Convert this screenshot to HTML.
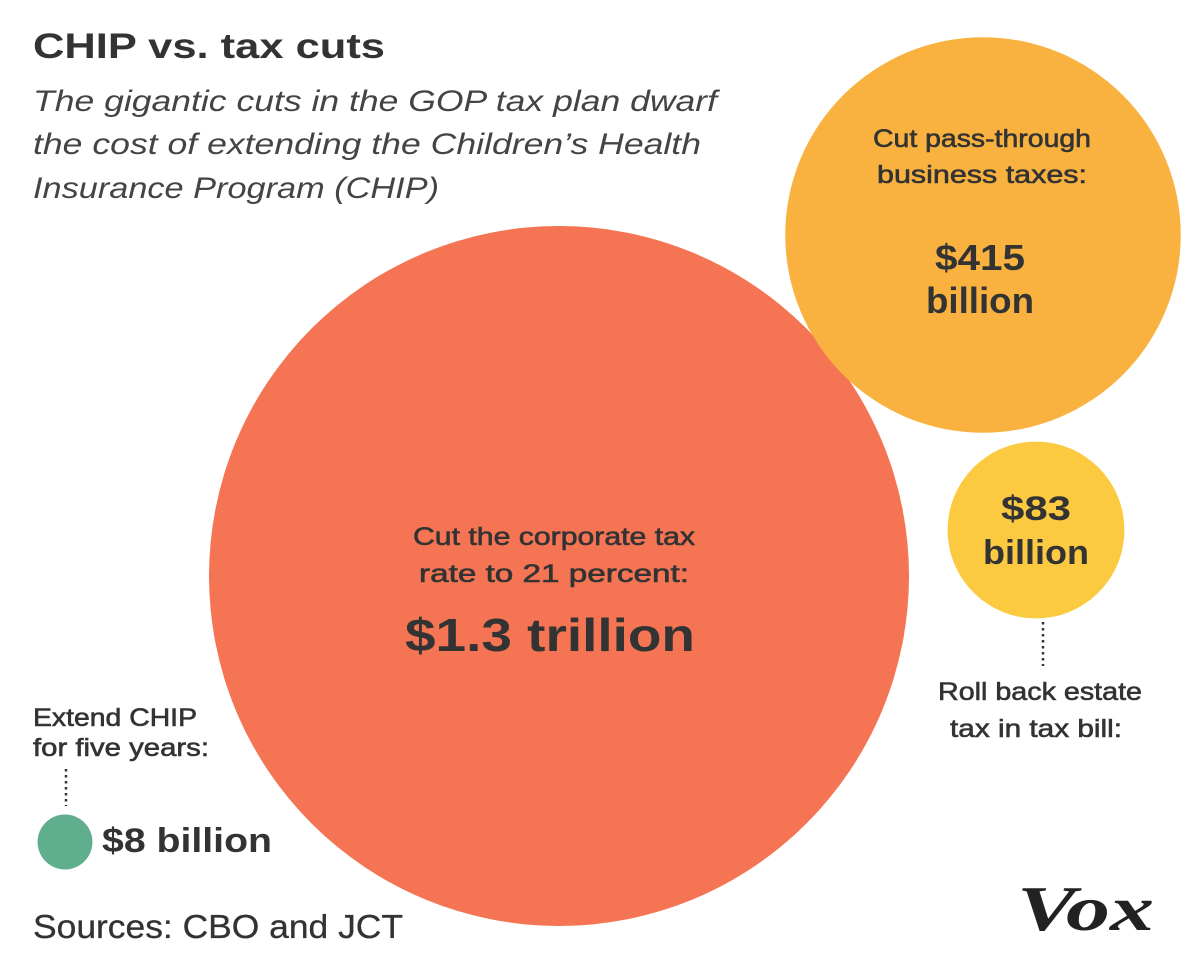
<!DOCTYPE html>
<html><head><meta charset="utf-8"><style>
html,body{margin:0;padding:0;background:#fff;}
svg{display:block;font-family:"Liberation Sans",sans-serif;}
.med{stroke:#333;stroke-width:0.6;}
</style></head><body>
<svg id="chart" width="1200" height="971" viewBox="0 0 1200 971" xmlns="http://www.w3.org/2000/svg">
<rect width="1200" height="971" fill="#fff"/>
<text x="33" y="58" font-size="35" font-weight="bold" fill="#333" textLength="352" lengthAdjust="spacingAndGlyphs">CHIP vs. tax cuts</text>
<g font-size="30" font-style="italic" fill="#444">
<text x="33" y="111" textLength="684" lengthAdjust="spacingAndGlyphs">The gigantic cuts in the GOP tax plan dwarf</text>
<text x="33" y="154" textLength="668" lengthAdjust="spacingAndGlyphs">the cost of extending the Children’s Health</text>
<text x="33" y="198" textLength="406" lengthAdjust="spacingAndGlyphs">Insurance Program (CHIP)</text>
</g>
<g id="bubbles"></g>
<g fill="#333" text-anchor="middle">
<text class="med" x="554" y="545" font-size="25" textLength="282" lengthAdjust="spacingAndGlyphs">Cut the corporate tax</text>
<text class="med" x="554" y="582" font-size="25" textLength="270" lengthAdjust="spacingAndGlyphs">rate to 21 percent:</text>
<text x="550" y="651" font-size="46" font-weight="bold" textLength="290" lengthAdjust="spacingAndGlyphs">$1.3 trillion</text>
</g>
<g fill="#333" text-anchor="middle">
<text class="med" x="982" y="147" font-size="25" textLength="218" lengthAdjust="spacingAndGlyphs">Cut pass-through</text>
<text class="med" x="982" y="183" font-size="25" textLength="210" lengthAdjust="spacingAndGlyphs">business taxes:</text>
<text x="980" y="270" font-size="36" font-weight="bold" textLength="90" lengthAdjust="spacingAndGlyphs">$415</text>
<text x="980" y="313" font-size="36" font-weight="bold" textLength="108" lengthAdjust="spacingAndGlyphs">billion</text>
</g>
<g fill="#333" text-anchor="middle">
<text x="1036" y="520" font-size="34" font-weight="bold" textLength="70" lengthAdjust="spacingAndGlyphs">$83</text>
<text x="1036" y="564" font-size="34" font-weight="bold" textLength="106" lengthAdjust="spacingAndGlyphs">billion</text>
<line x1="1043" y1="622" x2="1043" y2="666" stroke="#333" stroke-width="2.5" stroke-dasharray="2.5,3.5"/>
<text class="med" x="1040" y="700" font-size="25" textLength="204" lengthAdjust="spacingAndGlyphs">Roll back estate</text>
<text class="med" x="1036" y="737" font-size="25" textLength="172" lengthAdjust="spacingAndGlyphs">tax in tax bill:</text>
</g>
<g fill="#333">
<text class="med" x="33" y="726" font-size="25" textLength="164" lengthAdjust="spacingAndGlyphs">Extend CHIP</text>
<text class="med" x="33" y="756" font-size="25" textLength="176" lengthAdjust="spacingAndGlyphs">for five years:</text>
<line x1="66" y1="769" x2="66" y2="806" stroke="#333" stroke-width="2.5" stroke-dasharray="2.5,3.5"/>
<text x="102" y="852" font-size="34" font-weight="bold" textLength="170" lengthAdjust="spacingAndGlyphs">$8 billion</text>
</g>
<text x="33" y="938" font-size="33" fill="#333" stroke="#333" stroke-width="0.3" textLength="370" lengthAdjust="spacingAndGlyphs">Sources: CBO and JCT</text>
<text x="1017" y="930" font-family="'Liberation Serif',serif" font-size="64" font-weight="bold" font-style="italic" fill="#222" textLength="137" lengthAdjust="spacingAndGlyphs">Vox</text>
</svg>
<script>
const labels = ["Corporate tax cut", "Pass-through cut", "Estate tax rollback", "CHIP extension"];
const values = [1300, 415, 83, 8];
const colors = ["#F47453", "#F9B23F", "#FBCA40", "#5FAE8E"];
const centersX = [559, 983, 1036, 65];
const centersY = [576, 235, 530, 842];
const k = 350 / Math.sqrt(1300);
function rScale(v){ return k * Math.sqrt(v); }
const g = document.getElementById('bubbles');
const ns = 'http://www.w3.org/2000/svg';
values.forEach((v, i) => {
  const c = document.createElementNS(ns, 'circle');
  c.setAttribute('cx', centersX[i]);
  c.setAttribute('cy', centersY[i]);
  c.setAttribute('r', rScale(v));
  c.setAttribute('fill', colors[i]);
  
  
  g.appendChild(c);
});
</script>
</body></html>
